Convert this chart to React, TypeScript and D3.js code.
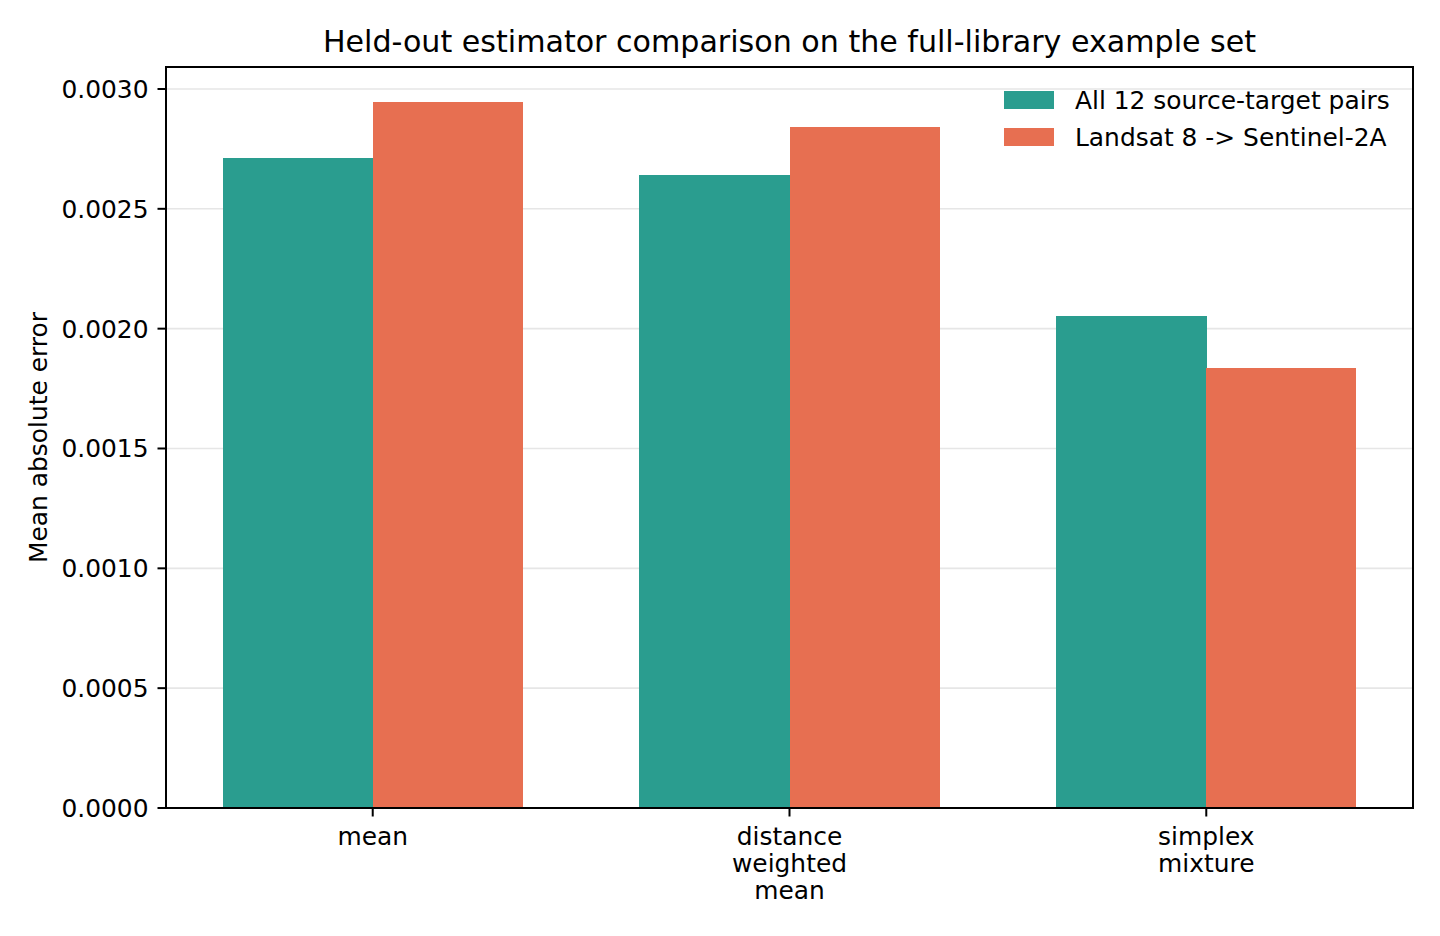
import {useEffect, useRef} from "react"

import * as d3 from "d3"

const categories = ["mean", "distance\nweighted\nmean", "simplex\nmixture"]
const seriesNames = ["All 12 source-target pairs", "Landsat 8 -> Sentinel-2A"]
const allPairs = [0.002712, 0.002641, 0.002053]
const landsatToSentinel = [0.002946, 0.002841, 0.001836]
const yTicks = [0, 0.0005, 0.001, 0.0015, 0.002, 0.0025, 0.003]
const colors = ["#2a9d8f", "#e76f51"]

const width = 1440
const height = 936
const margins = {left: 166, right: 27, top: 67, bottom: 128}
const font = "DejaVu Sans, sans-serif"
const fontSize = 24.9

const App = (): JSX.Element => {
  const ref = useRef<SVGSVGElement>(null)

  useEffect(() => {
    const svg = d3.select(ref.current)
    svg.selectAll("*").remove()

    const x0 = margins.left
    const x1 = width - margins.right
    const y0 = height - margins.bottom
    const y1 = margins.top

    const barWidth = 0.36
    const xScale = d3.scaleLinear().domain([-0.496, 2.496]).range([x0, x1])
    const yScale = d3.scaleLinear().domain([0, 0.0030917]).range([y0, y1])

    svg.append("rect").attr("width", width).attr("height", height).attr("fill", "white")

    // grid
    svg
      .append("g")
      .selectAll("line")
      .data(yTicks)
      .join("line")
      .attr("x1", x0)
      .attr("x2", x1)
      .attr("y1", (d) => yScale(d))
      .attr("y2", (d) => yScale(d))
      .attr("stroke", "#e6e6e6")
      .attr("stroke-width", 1.6)

    const series = [allPairs, landsatToSentinel]
    series.forEach((values, s) => {
      svg
        .append("g")
        .attr("shape-rendering", "crispEdges")
        .selectAll("rect")
        .data(values)
        .join("rect")
        .attr("x", (_, i) => xScale(i - barWidth + s * barWidth))
        .attr("width", (_, i) => xScale(i + s * barWidth) - xScale(i - barWidth + s * barWidth) + (s === 0 ? 0.5 : 0))
        .attr("y", (d) => yScale(d))
        .attr("height", (d) => y0 - yScale(d))
        .attr("fill", colors[s])
    })

    // spines
    svg
      .append("rect")
      .attr("x", x0)
      .attr("y", y1)
      .attr("width", x1 - x0)
      .attr("height", y0 - y1)
      .attr("fill", "none")
      .attr("stroke", "black")
      .attr("stroke-width", 2)

    // y ticks
    const yAxis = svg.append("g")
    yTicks.forEach((t) => {
      yAxis
        .append("line")
        .attr("x1", x0 - 8.5)
        .attr("x2", x0)
        .attr("y1", yScale(t))
        .attr("y2", yScale(t))
        .attr("stroke", "black")
        .attr("stroke-width", 2)
      yAxis
        .append("text")
        .attr("x", x0 - 17.5)
        .attr("y", yScale(t))
        .attr("dy", "0.36em")
        .attr("text-anchor", "end")
        .attr("font-family", font)
        .attr("font-size", fontSize)
        .text(d3.format(".4f")(t))
    })

    // x ticks
    const xAxis = svg.append("g")
    categories.forEach((c, i) => {
      xAxis
        .append("line")
        .attr("x1", xScale(i))
        .attr("x2", xScale(i))
        .attr("y1", y0)
        .attr("y2", y0 + 8.5)
        .attr("stroke", "black")
        .attr("stroke-width", 2)
      c.split("\n").forEach((line, k) => {
        xAxis
          .append("text")
          .attr("x", xScale(i))
          .attr("y", y0 + 28 + k * 27)
          .attr("dy", "0.36em")
          .attr("text-anchor", "middle")
          .attr("font-family", font)
          .attr("font-size", fontSize)
          .text(line)
      })
    })

    svg
      .append("text")
      .attr("transform", `translate(38,${(y0 + y1) / 2}) rotate(-90)`)
      .attr("dy", "0.36em")
      .attr("text-anchor", "middle")
      .attr("font-family", font)
      .attr("font-size", fontSize)
      .text("Mean absolute error")

    svg
      .append("text")
      .attr("x", (x0 + x1) / 2)
      .attr("y", 41)
      .attr("dy", "0.36em")
      .attr("text-anchor", "middle")
      .attr("font-family", font)
      .attr("font-size", 30.1)
      .text("Held-out estimator comparison on the full-library example set")

    // legend
    const legend = svg.append("g")
    seriesNames.forEach((name, s) => {
      const cy = 100 + s * 37
      legend
        .append("rect")
        .attr("x", 1004)
        .attr("y", cy - 9)
        .attr("width", 50)
        .attr("height", 18)
        .attr("fill", colors[s])
      legend
        .append("text")
        .attr("x", 1075)
        .attr("y", cy)
        .attr("dy", "0.36em")
        .attr("font-family", font)
        .attr("font-size", fontSize)
        .text(name)
    })
  }, [])

  return (
    <svg
      ref={ref}
      width={width}
      height={height}
      style={{position: "absolute", left: 0, top: 0}}
    />
  )
}

export default App
